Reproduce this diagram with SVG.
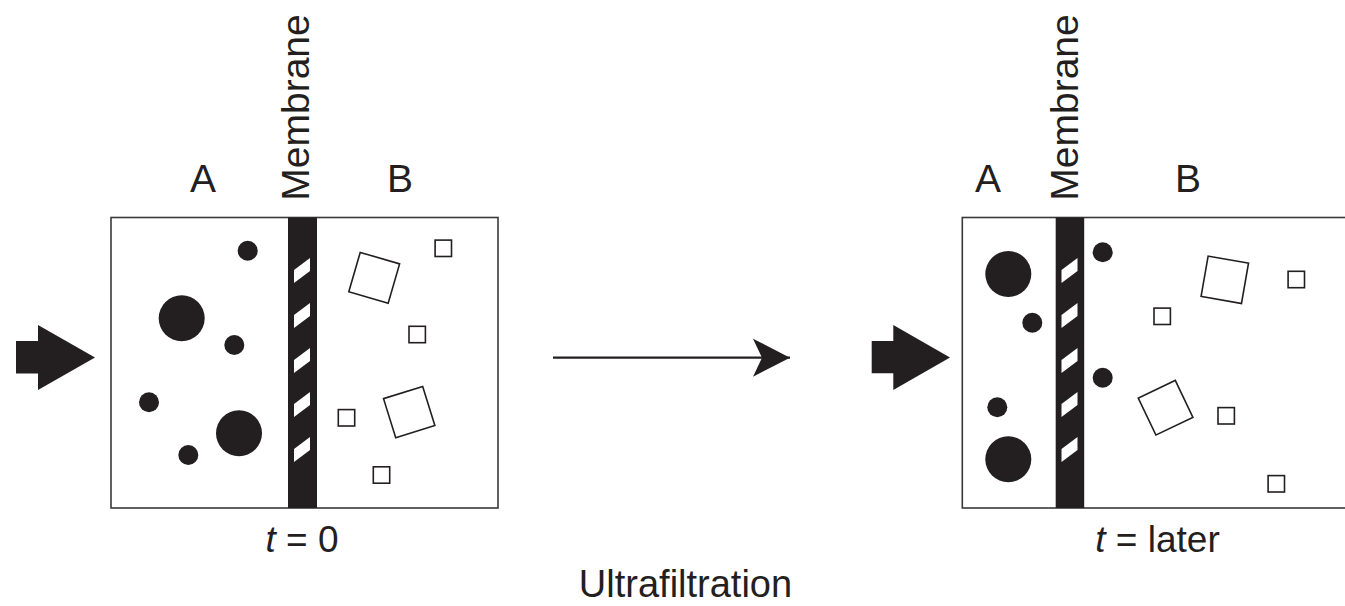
<svg xmlns="http://www.w3.org/2000/svg" xmlns:xlink="http://www.w3.org/1999/xlink" width="1345" height="606" viewBox="0 0 1345 606">
<style>
.lbl{font-family:"Liberation Sans",Arial,sans-serif;fill:#231f20;}
.box{fill:#fff;stroke:#3a3a3a;stroke-width:1.6;}
.mem{fill:#231f20;}
.slot{fill:#fff;}
.dot{fill:#231f20;}
.sq{fill:none;stroke:#231f20;stroke-width:1.6;}
.blk{fill:#231f20;}
</style>
<defs>
<path id="slot" d="M0,12 L16,0 L16,13 L0,25 Z"/>
<rect id="ssq" x="-8.2" y="-8.2" width="16.4" height="16.4"/>
<rect id="bsq" x="-20.5" y="-20.5" width="41" height="41"/>
<marker id="ah" markerWidth="40" markerHeight="40" viewBox="0 0 40 40" refX="37" refY="20" orient="auto" markerUnits="userSpaceOnUse">
<path d="M0,1 L37,20 L0,39 L9,20 Z" fill="#231f20"/>
</marker>
</defs>
<rect width="1345" height="606" fill="#fff"/>

<g id="feed-left">
<polygon class="blk" points="16,341 38,341 38,325 95,357.5 38,390 38,373.5 16,373.5"/>
</g>

<g id="panel-t0">
<rect class="box" x="111" y="217.5" width="387" height="290.5"/>
<rect class="mem" x="288" y="217.5" width="29" height="290.5"/>
<g class="slot">
<use xlink:href="#slot" x="294" y="258"/>
<use xlink:href="#slot" x="294" y="303"/>
<use xlink:href="#slot" x="294" y="348"/>
<use xlink:href="#slot" x="294" y="392"/>
<use xlink:href="#slot" x="294" y="437"/>
</g>
<g class="dot">
<circle cx="247.7" cy="250.7" r="10"/>
<circle cx="181.7" cy="318.3" r="23"/>
<circle cx="234.3" cy="345" r="10"/>
<circle cx="149" cy="402.3" r="10"/>
<circle cx="239" cy="433.3" r="23"/>
<circle cx="188.3" cy="455" r="10"/>
</g>
<g class="sq">
<use xlink:href="#ssq" x="443.3" y="248.3"/>
<use xlink:href="#bsq" transform="translate(374.2,277.8) rotate(16.2)"/>
<use xlink:href="#ssq" x="417.2" y="334.5"/>
<use xlink:href="#bsq" transform="translate(409.2,412.1) rotate(-17.3)"/>
<use xlink:href="#ssq" x="346.5" y="417.8"/>
<use xlink:href="#ssq" x="381.5" y="475"/>
</g>
<text class="lbl" x="203" y="192" font-size="39" text-anchor="middle">A</text>
<text class="lbl" x="400" y="192" font-size="39" text-anchor="middle">B</text>
<text class="lbl" font-size="39" text-anchor="middle" transform="translate(309,107.5) rotate(-90)">Membrane</text>
<text class="lbl" x="302" y="551.7" font-size="37" text-anchor="middle"><tspan font-style="italic">t</tspan> = 0</text>
</g>

<g id="connectors">
<line x1="553" y1="357.7" x2="790" y2="357.7" stroke="#231f20" stroke-width="2.2" marker-end="url(#ah)"/>
</g>

<g id="feed-right">
<polygon class="blk" points="871.7,341 893.3,341 893.3,325 950,357.5 893.3,390 893.3,373.3 871.7,373.3"/>
</g>

<g id="panel-later">
<rect class="box" x="962.3" y="217.5" width="420" height="290.5"/>
<rect class="mem" x="1055.7" y="217.5" width="28.5" height="290.5"/>
<g class="slot">
<use xlink:href="#slot" x="1061.5" y="258"/>
<use xlink:href="#slot" x="1061.5" y="303"/>
<use xlink:href="#slot" x="1061.5" y="348"/>
<use xlink:href="#slot" x="1061.5" y="392"/>
<use xlink:href="#slot" x="1061.5" y="437"/>
</g>
<g class="dot">
<circle cx="1008.3" cy="274" r="23"/>
<circle cx="1102.7" cy="252.3" r="10"/>
<circle cx="1032.3" cy="322.7" r="10"/>
<circle cx="1102.7" cy="377.7" r="10"/>
<circle cx="997.3" cy="407.3" r="10"/>
<circle cx="1008.3" cy="459.3" r="23"/>
</g>
<g class="sq">
<use xlink:href="#bsq" transform="translate(1224.8,279.8) rotate(9.9)"/>
<use xlink:href="#ssq" x="1296.3" y="279.5"/>
<use xlink:href="#ssq" x="1162.2" y="316.3"/>
<use xlink:href="#bsq" transform="translate(1165.6,407.7) rotate(-25.5)"/>
<use xlink:href="#ssq" x="1226.2" y="415.8"/>
<use xlink:href="#ssq" x="1276.3" y="483.8"/>
</g>
<text class="lbl" x="988" y="192" font-size="39" text-anchor="middle">A</text>
<text class="lbl" x="1188" y="192" font-size="39" text-anchor="middle">B</text>
<text class="lbl" font-size="39" text-anchor="middle" transform="translate(1078.3,107.5) rotate(-90)">Membrane</text>
<text class="lbl" x="1157.5" y="551.7" font-size="37" text-anchor="middle"><tspan font-style="italic">t</tspan> = later</text>
</g>

<g id="caption">
<text class="lbl" x="685.5" y="596.7" font-size="38" text-anchor="middle">Ultrafiltration</text>
</g>
</svg>
